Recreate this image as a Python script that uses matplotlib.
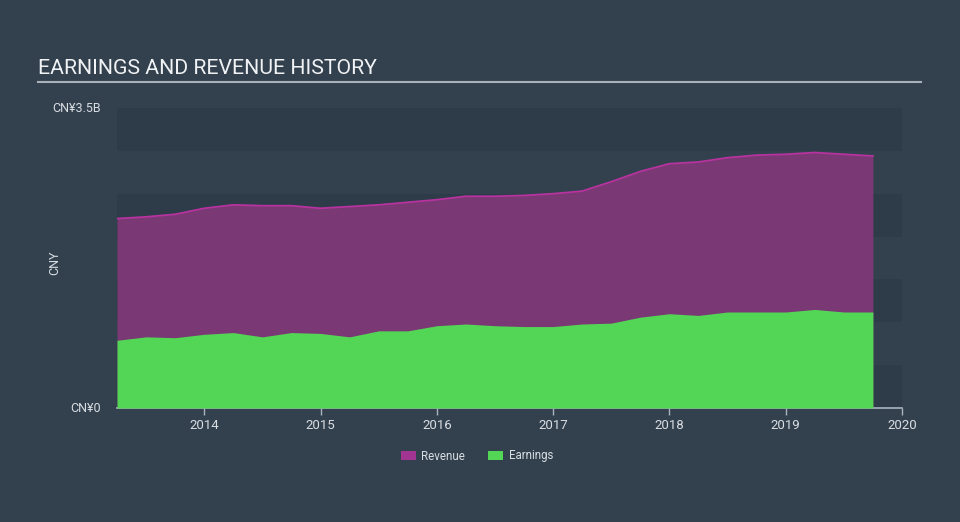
import matplotlib
matplotlib.use("Agg")
import matplotlib.pyplot as plt
from matplotlib.patches import Patch

dates = [2013.25, 2013.5, 2013.75, 2014.0, 2014.25, 2014.5, 2014.75,
         2015.0, 2015.25, 2015.5, 2015.75, 2016.0, 2016.25, 2016.5, 2016.75,
         2017.0, 2017.25, 2017.5, 2017.75, 2018.0, 2018.25, 2018.5, 2018.75,
         2019.0, 2019.25, 2019.5, 2019.75]
revenue = [2.21, 2.23, 2.26, 2.33, 2.37, 2.36, 2.36,
           2.33, 2.35, 2.37, 2.40, 2.43, 2.47, 2.47, 2.48,
           2.50, 2.53, 2.64, 2.76, 2.85, 2.87, 2.92, 2.95,
           2.96, 2.98, 2.96, 2.94]
earnings = [0.79, 0.83, 0.82, 0.86, 0.88, 0.83, 0.88,
            0.87, 0.83, 0.90, 0.90, 0.96, 0.98, 0.96, 0.95,
            0.95, 0.98, 0.99, 1.06, 1.10, 1.08, 1.12, 1.12,
            1.12, 1.15, 1.12, 1.12]
xticks = [2014, 2015, 2016, 2017, 2018, 2019, 2020]
ytick_vals = [0, 3.5]
ytick_labels = ["CN¥0", "CN¥3.5B"]

BG = "#33414f"
DARK = "#2e3b49"
TXT = "#d8dde2"
REV_FILL = "#7a3874"
REV_LINE = "#b8339f"
EARN = "#53d655"

plt.rcParams['font.family'] = ['Roboto', 'DejaVu Sans']

fig = plt.figure(figsize=(9.6, 5.22), dpi=100, facecolor=BG)
ax = fig.add_axes([117/960, 1-408/522, (902-117)/960, 300/522])
ax.set_facecolor(BG)

# horizontal bands
for lo in [0, 1.0, 2.0, 3.0]:
    ax.axhspan(lo, lo + 0.5, color=DARK, lw=0, zorder=0)

ax.fill_between(dates, 0, revenue, color=REV_FILL, lw=0, zorder=1)
ax.plot(dates, revenue, color=REV_LINE, lw=1.3, zorder=2)
ax.fill_between(dates, 0, earnings, color=EARN, lw=0, zorder=3)

ax.set_xlim(2013.25, 2020.0)
ax.set_ylim(0, 3.5)

for s in ['top', 'right', 'left']:
    ax.spines[s].set_visible(False)
ax.spines['bottom'].set_color("#aab4be")
ax.spines['bottom'].set_linewidth(1.2)

ax.set_xticks(xticks)
ax.set_xticklabels([str(x) for x in xticks])
ax.tick_params(axis='x', colors="#aab4be", length=5, width=1, labelcolor=TXT, labelsize=9.5, pad=3)
ax.set_yticks([])

for v, lab in zip(ytick_vals, ytick_labels):
    ax.text(-0.02, v, lab, transform=ax.get_yaxis_transform(), ha='right', va='center',
            color=TXT, fontsize=9)

fig.text(55/960, 1-263/522, "CNY", rotation=90, ha='center', va='center', color=TXT, fontsize=9)

fig.text(38/960, 1-69/522, "EARNINGS AND REVENUE HISTORY", ha='left', va='center',
         color="#f0f2f4", fontsize=15.3)
fig.add_artist(plt.Line2D([38/960, 921/960], [1-82/522, 1-82/522], color="#aab0b8", lw=1.5))

handles = [Patch(facecolor="#a23592", edgecolor='none', label="Revenue"),
           Patch(facecolor=EARN, edgecolor='none', label="Earnings")]
leg = fig.legend(handles=handles, loc='center', bbox_to_anchor=(477/960, 1-456/522), ncol=2,
                 frameon=False, fontsize=8.3, labelcolor=TXT, handlelength=1.3, handleheight=0.9,
                 columnspacing=2.0, handletextpad=0.5)

fig.savefig("out.png", dpi=100, facecolor=BG)
